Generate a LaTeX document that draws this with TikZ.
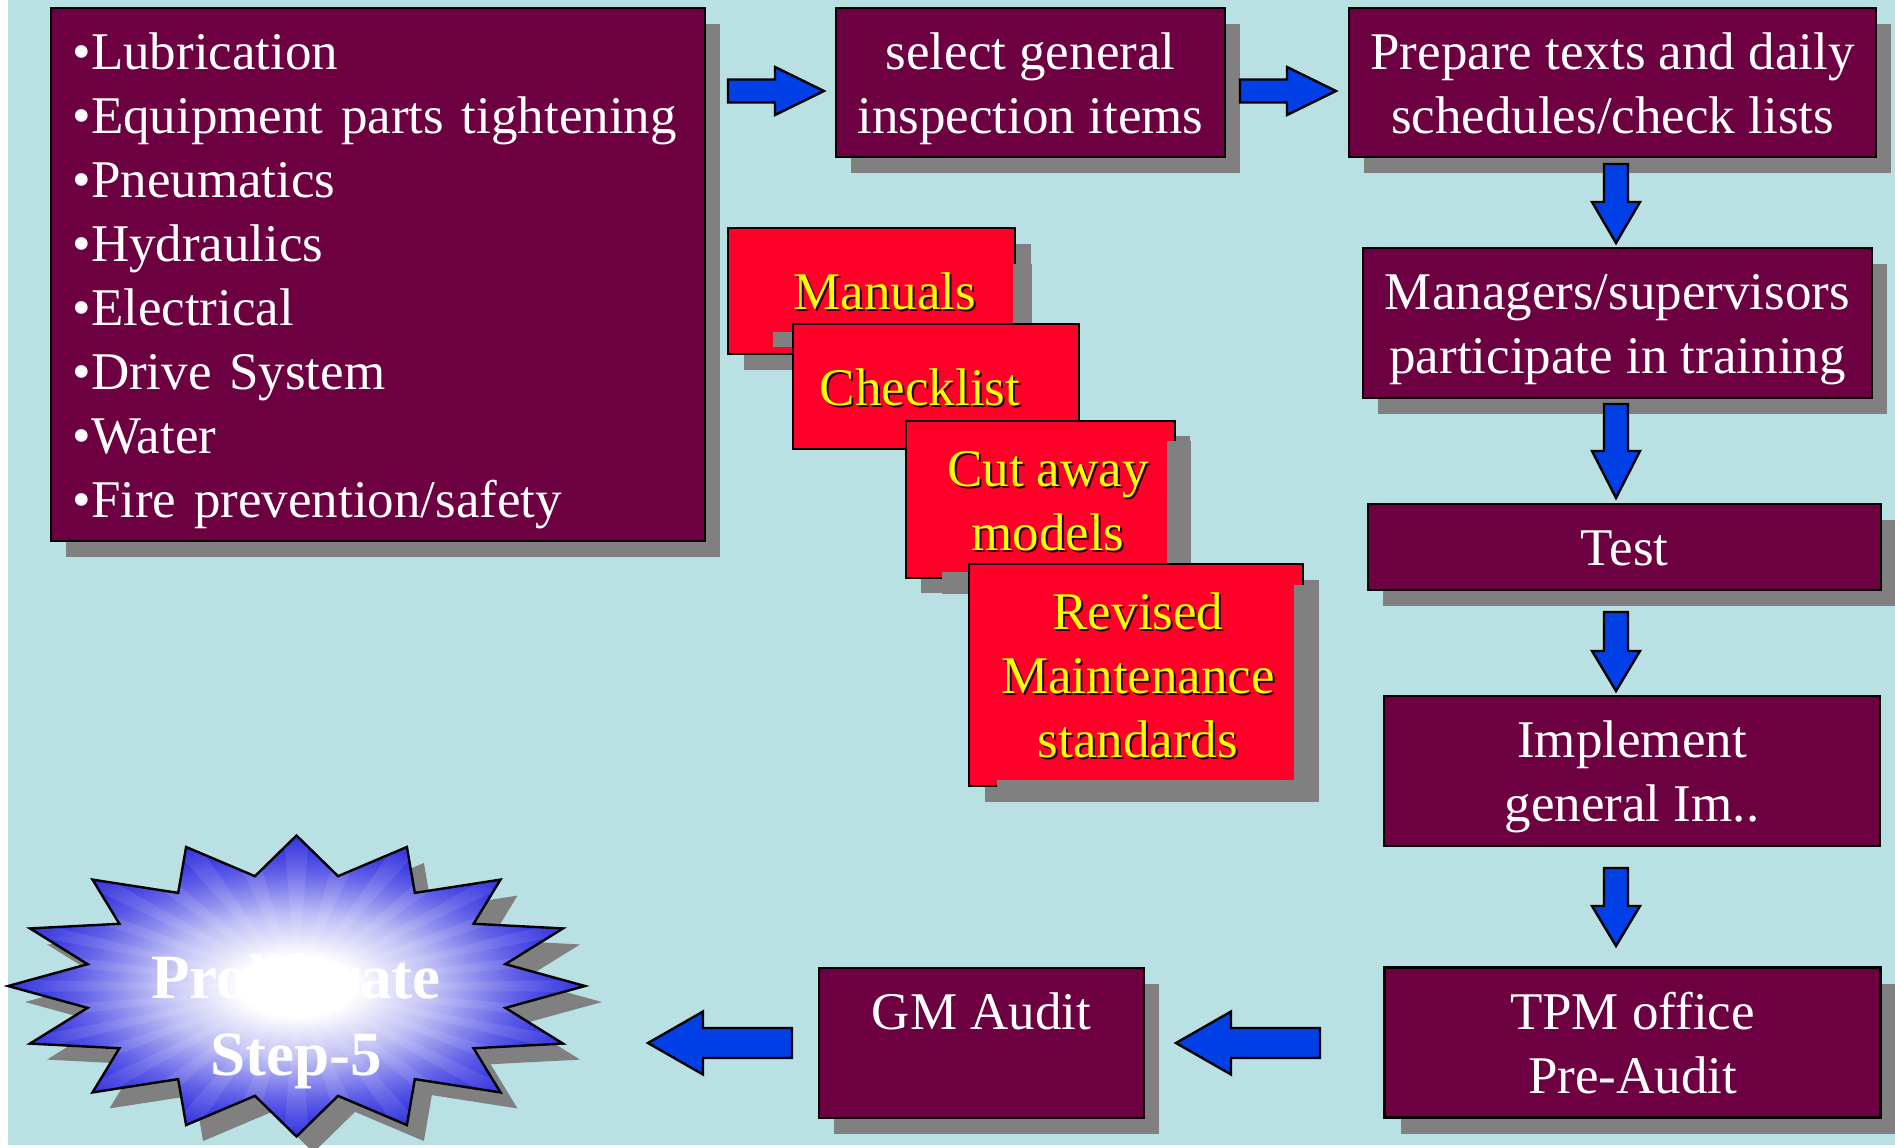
\documentclass[tikz,border=0pt]{standalone}
\usepackage{fontspec}
\setmainfont{Liberation Serif}
\usetikzlibrary{calc}

\definecolor{bgblue}{RGB}{185,224,227}
\definecolor{boxmaroon}{RGB}{108,0,64}
\definecolor{shadowgray}{RGB}{128,128,128}
\definecolor{redbox}{RGB}{255,0,40}
\definecolor{yellowtxt}{RGB}{255,255,0}
\definecolor{txtshadow}{RGB}{40,0,0}
\definecolor{arrowblue}{RGB}{0,64,230}
\definecolor{starblue}{RGB}{30,30,220}
\definecolor{starlow}{RGB}{95,95,232}
\definecolor{starmid}{RGB}{190,190,245}

\pgfdeclarelayer{bg}
\pgfdeclarelayer{shadow}
\pgfsetlayers{bg,shadow,main}

\pgfdeclareradialshading{starshade}{\pgfpoint{0bp}{0bp}}{%
  color(0bp)=(white); color(5bp)=(white); color(12bp)=(starmid);
  color(19bp)=(starlow); color(25bp)=(starblue); color(50bp)=(starblue)}

\newcommand\boxfont{\fontsize{26.5pt}{32pt}\selectfont}
\newcommand\starfont{\fontsize{31.5pt}{38.5pt}\selectfont\bfseries}

% centred white box text, lowered slightly inside its frame
\newcommand\btext[1]{\raisebox{-3pt}[\height][\depth]{\begin{tabular}{@{}c@{}}#1\end{tabular}}}
% yellow text with a small dark shadow; optional argument moves it sideways
\newcommand\ytext[2][0pt]{\hspace*{#1}\raisebox{-3pt}[\height][\depth]{%
  \rlap{\kern1pt\raisebox{-1pt}[0pt][0pt]{\color{txtshadow}\begin{tabular}{@{}c@{}}#2\end{tabular}}}%
  {\color{yellowtxt}\begin{tabular}{@{}c@{}}#2\end{tabular}}}}

% block arrow from tail #1 to tip #2: half shaft #3, half head #4, head length #5
\newcommand\blockarrow[5]{%
  \coordinate (#1hb) at ($(#2)!#5!(#1)$);
  \draw[arrowstyle] ($(#1)!#3!90:(#2)$) -- ($(#1hb)!#3!90:(#2)$) -- ($(#1hb)!#4!90:(#2)$)
    -- (#2) -- ($(#1hb)!#4!-90:(#2)$) -- ($(#1hb)!#3!-90:(#2)$) -- ($(#1)!#3!-90:(#2)$) -- cycle;}

% grey drop shadow behind a node
\newcommand\dropshadow[2][15,16]{%
  \begin{pgfonlayer}{shadow}
    \fill[shadowgray] ([shift={(#1)}]#2.north west) rectangle ([shift={(#1)}]#2.south east);
  \end{pgfonlayer}}

% sixteen-point burst around centre #1
\newcommand\starpath[1]{($(#1)+(288.5,0)$) \foreach \k in {0,...,15}{
  -- ($(#1)+({213*cos(\k*22.5+11.25)},{112*sin(\k*22.5+11.25)})$)
  -- ($(#1)+({288.5*cos((\k+1)*22.5)},{150.5*sin((\k+1)*22.5)})$)} -- cycle}

\begin{document}
\begin{tikzpicture}[x=0.5pt, y=-0.5pt,
  mbox/.style={draw=black, line width=1.2pt, fill=boxmaroon, text=white,
    inner sep=0pt, outer sep=0pt, font=\boxfont},
  rbox/.style={draw=black, line width=1.2pt, fill=redbox,
    inner sep=0pt, outer sep=0pt, font=\boxfont},
  arrowstyle/.style={draw=black, fill=arrowblue, line width=1.2pt, line join=miter},
  overlay/.style={fill=shadowgray}]

\useasboundingbox (0,0) rectangle (1895,1147);
\begin{pgfonlayer}{bg}
  \fill[white] (0,0) rectangle (1895,1147);
  \fill[bgblue] (8,0) rectangle (1895,1145);
\end{pgfonlayer}

% ---- maroon process boxes ----
\node[mbox, minimum width=327pt, minimum height=266.5pt, text width=305.5pt,
      inner xsep=10.75pt, align=left] (items) at (378,274.5)
  {\raisebox{-3pt}[\height][\depth]{\begin{tabular}{@{}l@{}}%
   •Lubrication\\•Equipment parts tightening\\•Pneumatics\\•Hydraulics\\
   •Electrical\\•Drive System\\•Water\\•Fire prevention/safety\end{tabular}}};
\dropshadow{items}

\node[mbox, minimum width=194.5pt, minimum height=74.5pt] (sel) at (1030.5,82.5)
  {\btext{select general\\inspection items}};
\dropshadow{sel}

\node[mbox, minimum width=263.5pt, minimum height=74.5pt] (prep) at (1612.5,82.5)
  {\btext{Prepare texts and daily\\schedules/check lists}};
\dropshadow{prep}

\node[mbox, minimum width=254.5pt, minimum height=75pt] (mgr) at (1617.5,323)
  {\btext{Managers/supervisors\\participate in training}};
\dropshadow{mgr}

\node[mbox, minimum width=256.5pt, minimum height=43pt] (test) at (1624.5,547)
  {\btext{Test}};
\dropshadow{test}

\node[mbox, minimum width=248pt, minimum height=75pt] (impl) at (1632,771)
  {\btext{Implement\\general Im..}};

\node[mbox, minimum width=248pt, minimum height=75pt] (tpm) at (1632.5,1042.5)
  {\btext{TPM office\\Pre-Audit}};
\dropshadow[16,16]{tpm}

\node[mbox, minimum width=162.5pt, minimum height=75pt] (gm) at (981.5,1043)
  {\btext{GM Audit\\\mbox{}}};
\dropshadow{gm}

% ---- stacked red cards ----
\node[rbox, minimum width=143.5pt, minimum height=63pt] (man) at (871.5,291)
  {\ytext[13.5pt]{Manuals}};
\dropshadow[16,16]{man}
\fill[overlay] ([shift={(-2,36)}]man.north east) rectangle ([shift={(17,96)}]man.north east);
\fill[overlay] ([shift={(45,-22)}]man.south west) rectangle ([shift={(65,-7)}]man.south west);

\node[rbox, minimum width=143pt, minimum height=62.5pt] (chk) at (936,386.5)
  {\ytext[-16pt]{Checklist}};

\node[rbox, minimum width=134.5pt, minimum height=78.5pt] (cut) at (1040.5,499.5)
  {\ytext[7.5pt]{Cut away\\models}};
\dropshadow[15,15]{cut}
\fill[overlay] ([shift={(-8,20)}]cut.north east) rectangle ([shift={(16,143)}]cut.north east);
\fill[overlay] ([shift={(36,-6)}]cut.south west) rectangle ([shift={(63,16)}]cut.south west);

\node[rbox, minimum width=167pt, minimum height=111pt] (rev) at (1136,675)
  {\ytext[2pt]{Revised\\Maintenance\\standards}};
\dropshadow[16,16]{rev}
\fill[overlay] ([shift={(-9,21)}]rev.north east) rectangle ([shift={(16,16)}]rev.south east);
\fill[overlay] ([shift={(28,-6)}]rev.south west) rectangle ([shift={(16,16)}]rev.south east);

% ---- block arrows ----
\coordinate (r1a) at (728,91);   \coordinate (r1b) at (824,91);
\coordinate (r2a) at (1240,91);  \coordinate (r2b) at (1336,91);
\coordinate (d1a) at (1616,164); \coordinate (d1b) at (1616,243);
\coordinate (d2a) at (1616,404); \coordinate (d2b) at (1616,498);
\coordinate (d3a) at (1616,612); \coordinate (d3b) at (1616,691);
\coordinate (d4a) at (1616,868); \coordinate (d4b) at (1616,946);
\coordinate (l1a) at (1320,1043); \coordinate (l1b) at (1176,1043);
\coordinate (l2a) at (792,1043);  \coordinate (l2b) at (648,1043);

\blockarrow{r1a}{r1b}{5.75pt}{12pt}{24.5pt}
\blockarrow{r2a}{r2b}{5.75pt}{12pt}{24.5pt}
\blockarrow{d1a}{d1b}{6pt}{12pt}{20.5pt}
\blockarrow{d2a}{d2b}{6pt}{12pt}{23.5pt}
\blockarrow{d3a}{d3b}{6pt}{12pt}{20pt}
\blockarrow{d4a}{d4b}{6pt}{12pt}{20pt}
\blockarrow{l1a}{l1b}{7.5pt}{15.75pt}{27.5pt}
\blockarrow{l2a}{l2b}{7.5pt}{15.75pt}{27.5pt}

% ---- burst ----
\coordinate (sc) at (296.5,986);
\coordinate (scs) at (313.5,1002);
\begin{pgfonlayer}{shadow}
  \fill[shadowgray] \starpath{scs};
\end{pgfonlayer}
\shade[shading=starshade] \starpath{sc};
\begin{scope}
  \clip \starpath{sc};
  \foreach \k in {0,...,31}{
    \fill[white, opacity=0.09] (sc)
      -- ($(sc)+({330*cos(\k*11.25-2.5)},{172*sin(\k*11.25-2.5)})$)
      -- ($(sc)+({330*cos(\k*11.25+2.5)},{172*sin(\k*11.25+2.5)})$) -- cycle;}
\end{scope}
\draw[black, line width=1.2pt, line join=miter] \starpath{sc};
\node[font=\starfont, text=white, anchor=base, inner sep=0pt] (prolif) at (296,998)
  {\begin{tabular}[t]{@{}c@{}}Proliferate\\Step-5\end{tabular}};

\end{tikzpicture}
\end{document}
